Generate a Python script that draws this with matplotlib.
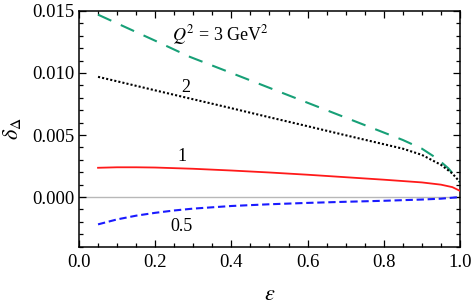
import matplotlib
matplotlib.use("Agg")
import matplotlib.pyplot as plt
from matplotlib.ticker import MultipleLocator, FormatStrFormatter

plt.rcParams['font.family'] = ['Liberation Serif', 'DejaVu Serif']
plt.rcParams['mathtext.fontset'] = 'stix'

# Data
eps_green = [0.05, 0.10, 0.15, 0.20, 0.291, 0.40, 0.50, 0.60, 0.70, 0.80, 0.85, 0.90, 0.94, 0.97, 1.00]
d_green = [0.0147, 0.0140, 0.0133, 0.0126, 0.0113, 0.0100, 0.0088, 0.0076, 0.0064, 0.0052, 0.0046, 0.0039, 0.0031, 0.0023, 0.0012]

eps_black = [0.05, 0.10, 0.20, 0.30, 0.40, 0.50, 0.60, 0.70, 0.80, 0.85, 0.90, 0.95, 0.98, 1.00]
d_black = [0.00969, 0.00933, 0.00860, 0.00788, 0.00716, 0.00643, 0.00571, 0.00498, 0.00426, 0.0039, 0.0034, 0.0026, 0.0019, 0.0012]

eps_red = [0.05, 0.10, 0.15, 0.20, 0.30, 0.40, 0.50, 0.60, 0.70, 0.80, 0.90, 0.95, 0.98, 1.00]
d_red = [0.00236, 0.00240, 0.00240, 0.00238, 0.00228, 0.00214, 0.00198, 0.00180, 0.00160, 0.00140, 0.00118, 0.00100, 0.00080, 0.00050]

eps_blue = [0.05, 0.10, 0.15, 0.20, 0.25, 0.30, 0.40, 0.50, 0.60, 0.70, 0.80, 0.90, 0.95, 1.00]
d_blue = [-0.00220, -0.00180, -0.00150, -0.00127, -0.00108, -0.00093, -0.00072, -0.00058, -0.00047, -0.00038, -0.00030, -0.00020, -0.00013, 0.0]

labels = ["$Q^2$ = 3 GeV$^2$", "2", "1", "0.5"]

fig = plt.figure(figsize=(4.73, 3.04), dpi=100)
ax = fig.add_axes([0.167, 0.1885, 0.9725 - 0.167, 0.964 - 0.1885])

ax.axhline(0, color='#b8b8b8', lw=1.0, zorder=1)
ax.plot(eps_green, d_green, color='#17a077', lw=1.5, dashes=(7, 5), zorder=3)
ax.plot(eps_black, d_black, color='black', lw=1.5, dashes=(1, 1), zorder=3)
ax.plot(eps_red, d_red, color='#ff1a1a', lw=1.3, zorder=3)
ax.plot(eps_blue, d_blue, color='#1a1aff', lw=1.5, dashes=(3.5, 1.8), zorder=3)

fs = 13.5
lfs = 13
ax.text(0.245, 0.01306, labels[0], fontsize=lfs, va='center', ha='left')
ax.text(0.28, 0.00886, labels[1], fontsize=lfs, va='center', ha='center')
ax.text(0.27, 0.00323, labels[2], fontsize=lfs, va='center', ha='center')
ax.text(0.27, -0.00237, labels[3], fontsize=lfs, va='center', ha='center')

ax.set_xlim(0, 1.0)
ax.set_ylim(-0.004, 0.015)
ax.xaxis.set_major_locator(MultipleLocator(0.2))
ax.xaxis.set_minor_locator(MultipleLocator(0.05))
ax.yaxis.set_major_locator(MultipleLocator(0.005))
ax.yaxis.set_minor_locator(MultipleLocator(0.001))
ax.xaxis.set_major_formatter(FormatStrFormatter('%.1f'))
ax.yaxis.set_major_formatter(FormatStrFormatter('%.3f'))
ax.tick_params(which='both', direction='in', top=True, right=True, labelsize=fs, width=0.9)
ax.tick_params(which='major', length=5)
ax.tick_params(which='minor', length=2.8)
ax.tick_params(axis='x', pad=5)
ax.tick_params(axis='y', pad=3)
for s in ax.spines.values():
    s.set_linewidth(1.1)

ax.set_xlabel(r'$\varepsilon$', fontsize=16, labelpad=11)
ax.set_ylabel(r'$\delta_\Delta$', fontsize=16, labelpad=7)

fig.savefig('out.png', dpi=100)
